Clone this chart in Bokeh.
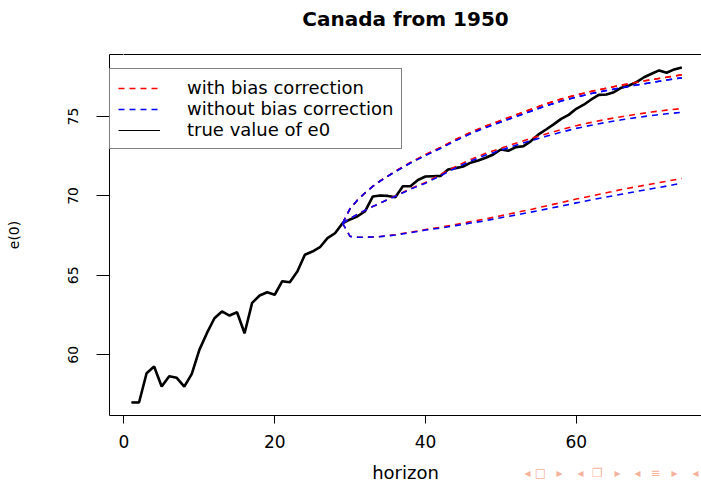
from bokeh.plotting import figure
from bokeh.models import Range1d, FixedTicker, LinearAxis, Legend, LegendItem
from bokeh.embed import file_html
from bokeh.resources import INLINE

# ---------------- data ----------------
horizon = list(range(1, 75))
true_e0 = [57.0, 57.0, 58.84, 59.26, 58.0, 58.65, 58.55, 58.0, 58.8, 60.31,
           61.36, 62.3, 62.73, 62.47, 62.68, 61.36, 63.27, 63.73, 63.94, 63.78,
           64.63, 64.57, 65.24, 66.3, 66.5, 66.77, 67.34, 67.65, 68.28, 68.52,
           68.72, 69.04, 69.96, 70.03, 70.0, 69.92, 70.61, 70.61, 71.0, 71.22,
           71.24, 71.26, 71.66, 71.75, 71.85, 72.09, 72.23, 72.4, 72.61, 72.92,
           72.84, 73.07, 73.13, 73.45, 73.87, 74.18, 74.5, 74.85, 75.1, 75.48,
           75.74, 76.07, 76.36, 76.38, 76.53, 76.81, 76.95, 77.16, 77.47, 77.69,
           77.9, 77.75, 77.96, 78.08]

fc_h = [29, 30, 31, 32, 33, 34, 35, 36, 38, 40, 42, 44, 46, 48, 50, 52, 54,
        56, 58, 60, 62, 64, 66, 68, 70, 72, 74]

upper_with = [68.28, 69.2, 69.75, 70.2, 70.6, 70.95, 71.25, 71.55, 72.1, 72.6,
              73.05, 73.55, 74.0, 74.4, 74.75, 75.1, 75.45, 75.8, 76.1, 76.35,
              76.58, 76.78, 76.97, 77.15, 77.32, 77.47, 77.62]
upper_without = [68.28, 69.2, 69.75, 70.2, 70.6, 70.94, 71.24, 71.53, 72.07, 72.55,
                 73.0, 73.48, 73.92, 74.31, 74.65, 74.99, 75.33, 75.67, 75.97, 76.22,
                 76.44, 76.63, 76.81, 76.98, 77.14, 77.29, 77.43]
mid_with = [68.28, 68.58, 68.85, 69.1, 69.33, 69.55, 69.78, 70.0, 70.45, 70.85,
            71.35, 71.85, 72.3, 72.68, 73.0, 73.32, 73.62, 73.9, 74.17, 74.42,
            74.63, 74.82, 74.98, 75.14, 75.28, 75.4, 75.5]
mid_without = [68.28, 68.58, 68.85, 69.1, 69.33, 69.55, 69.77, 69.98, 70.42, 70.8,
               71.28, 71.76, 72.2, 72.57, 72.88, 73.19, 73.48, 73.75, 74.01, 74.25,
               74.45, 74.63, 74.79, 74.93, 75.06, 75.17, 75.26]
lower_with = [68.28, 67.45, 67.4, 67.4, 67.42, 67.45, 67.5, 67.56, 67.72, 67.88,
              68.03, 68.2, 68.38, 68.55, 68.75, 68.95, 69.15, 69.37, 69.58, 69.8,
              70.0, 70.2, 70.4, 70.58, 70.75, 70.92, 71.1]
lower_without = [68.28, 67.45, 67.4, 67.4, 67.41, 67.44, 67.49, 67.54, 67.69, 67.85,
                 67.98, 68.13, 68.29, 68.44, 68.63, 68.8, 68.98, 69.17, 69.36, 69.56,
                 69.75, 69.93, 70.11, 70.28, 70.45, 70.62, 70.8]

x_ticks = [0, 20, 40, 60]
y_ticks = [60, 65, 70, 75]
legend_labels = ["with bias correction", "without bias correction", "true value of e0"]

# beamer navigation symbols (decoration below the plot)
nav_symbols = ["\u25C2", "\u25A1", "\u25B8", "\u25C2", "\u2750", "\u25B8",
               "\u25C2", "\u2261", "\u25B8", "\u25C2"]
nav_px = [527, 540, 559, 580, 597, 617, 637, 655, 674, 695]

# ---------------- figure ----------------
XR = (-1.92, 76.62)
YR = (56.18, 78.90)
FONT = "DejaVu Sans"
W, H = 701, 485
FL, FT, FB = 109, 54, 415   # frame left / top / bottom in page pixels

p = figure(width=W, height=H, output_backend="svg", toolbar_location=None,
           x_range=Range1d(*XR), y_range=Range1d(*YR),
           min_border_left=FL, min_border_right=0, min_border_top=FT,
           min_border_bottom=H - FB, title="Canada from 1950",
           y_axis_label="e(0)")
p.grid.visible = False
p.outline_line_color = None
p.background_fill_color = "white"
p.border_fill_color = "white"

# pixel-identity x range for the navigation-symbol axis
p.extra_x_ranges = {"px": Range1d(FL, W)}

p.title.text_font = FONT
p.title.text_font_style = "bold"
p.title.text_font_size = "20px"
p.title.align = "center"
p.title.vertical_align = "bottom"
p.title.text_color = "black"
p.title.standoff = 8

# the default bottom axis (configure it before adding other axes)
xa = p.below[0]
xa.ticker = FixedTicker(ticks=x_ticks)
xa.axis_line_color = "black"
xa.major_tick_line_color = "black"
xa.major_tick_out = 8
xa.major_tick_in = 0
xa.minor_tick_line_color = None
xa.major_label_text_font = FONT
xa.major_label_text_font_size = "17px"
xa.major_label_text_color = "black"
xa.major_label_standoff = 11

ya = p.left[0]
ya.ticker = FixedTicker(ticks=y_ticks)
ya.axis_line_color = "black"
ya.major_tick_line_color = "black"
ya.major_tick_out = 13
ya.major_tick_in = 0
ya.minor_tick_line_color = None
ya.major_label_orientation = "vertical"
ya.major_label_text_font = FONT
ya.major_label_text_font_size = "14px"
ya.major_label_text_color = "black"
ya.major_label_standoff = 18
ya.axis_label_text_font = FONT
ya.axis_label_text_font_size = "14px"
ya.axis_label_text_font_style = "normal"
ya.axis_label_text_color = "black"
ya.axis_label_standoff = 44

# top side of the box: an axis whose (white, invisible) tick lifts the title
top = LinearAxis(ticker=FixedTicker(ticks=[0]), axis_line_color="black",
                 major_label_overrides={0: ""},
                 major_tick_out=20, major_tick_in=0, minor_tick_out=0,
                 minor_tick_in=0, major_label_standoff=0,
                 major_tick_line_color="white", minor_tick_line_color=None,
                 major_label_text_font_size="1px")
p.add_layout(top, "above")

# second bottom axis: navigation symbols as tick labels, "horizon" as axis label
nav = LinearAxis(x_range_name="px", ticker=FixedTicker(ticks=nav_px),
                 major_label_overrides={t: s for t, s in zip(nav_px, nav_symbols)},
                 axis_line_color=None, major_tick_line_color=None,
                 minor_tick_line_color=None, major_tick_out=0, major_tick_in=0,
                 minor_tick_out=0, minor_tick_in=0,
                 major_label_standoff=15, major_label_text_font=FONT,
                 major_label_text_font_size="12px",
                 major_label_text_color="#f6b39c",
                 axis_label="horizon", axis_label_standoff=-21,
                 axis_label_text_font=FONT, axis_label_text_font_size="18px",
                 axis_label_text_font_style="normal", axis_label_text_color="black")
p.add_layout(nav, "below")

# ---------------- lines ----------------
dash = "6 5"
# proxies for the legend, hidden under the real lines
lg_black = p.line(horizon, true_e0, line_color="black", line_width=1.2)
lg_red = p.line(fc_h, upper_with, line_color="#ff0000", line_width=1.5, line_dash=dash)
lg_blue = p.line(fc_h, upper_without, line_color="#0000ff", line_width=1.5, line_dash=dash)

p.line(horizon, true_e0, line_color="black", line_width=2.6)
for yv, col in [(upper_with, "red"), (mid_with, "red"), (lower_with, "red"),
                (upper_without, "blue"), (mid_without, "blue"), (lower_without, "blue")]:
    p.line(fc_h, yv, line_color=col, line_width=1.6, line_dash=dash)

legend = Legend(items=[LegendItem(label=legend_labels[0], renderers=[lg_red]),
                       LegendItem(label=legend_labels[1], renderers=[lg_blue]),
                       LegendItem(label=legend_labels[2], renderers=[lg_black])],
                location=(0, 266), orientation="vertical",
                border_line_color="black", border_line_width=1,
                background_fill_color="white", background_fill_alpha=1,
                label_text_font=FONT, label_text_font_size="18px",
                label_text_color="black",
                glyph_width=42, glyph_height=18, label_height=18,
                label_standoff=27, padding=8, spacing=0, margin=0)
p.add_layout(legend)

open("out.html", "w").write(file_html(p, INLINE))
